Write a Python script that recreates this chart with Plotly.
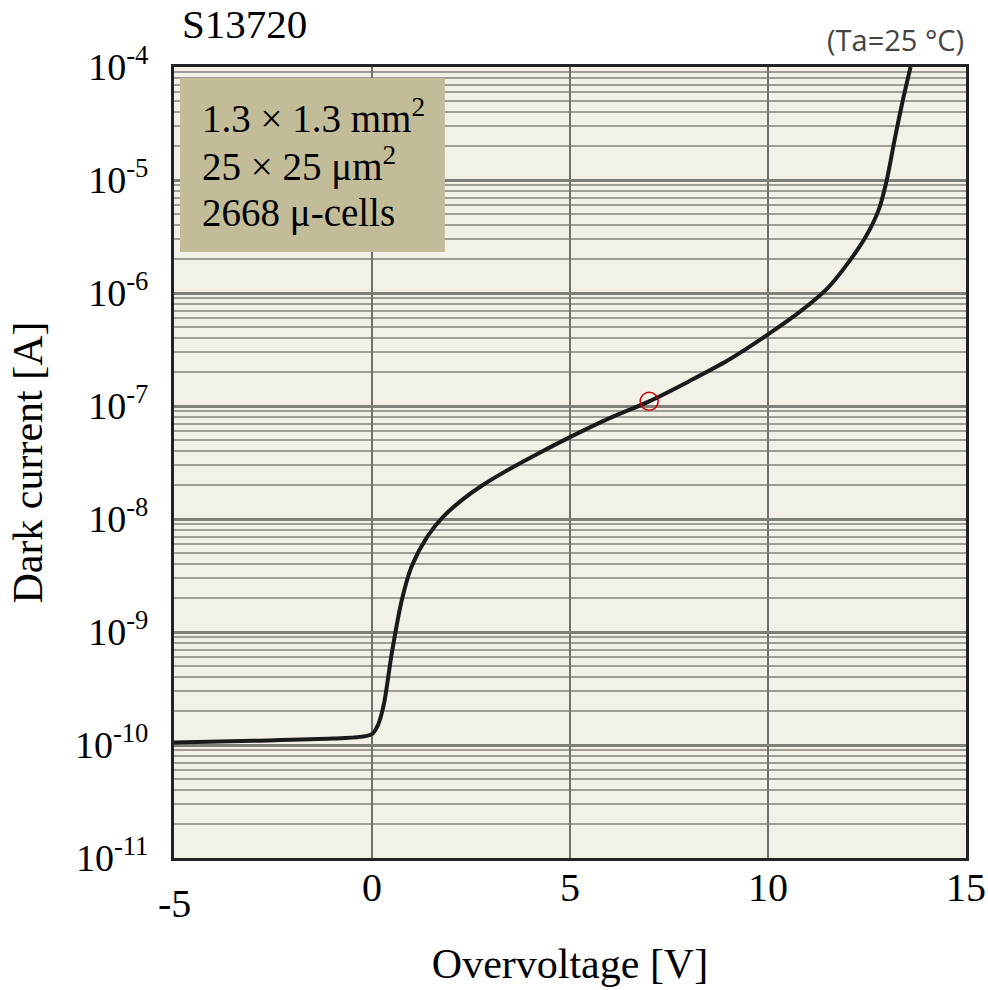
import plotly.graph_objects as go

# Data
overvoltage = [-5.0, -3.0, -1.0, -0.3, 0.0, 0.15, 0.3, 0.5, 0.75, 1.0, 1.4, 1.8, 2.3, 2.8, 3.5, 4.2, 5.0, 6.0, 7.0, 8.0, 9.0, 10.0, 10.8, 11.5, 12.0, 12.5, 12.8, 13.0, 13.2, 13.4, 13.6]
dark_current = [1.05e-10, 1.09e-10, 1.14e-10, 1.18e-10, 1.25e-10, 1.5e-10, 2.3e-10, 6.5e-10, 1.9e-9, 3.8e-9, 7.0e-9, 1.05e-8, 1.5e-8, 2.0e-8, 2.8e-8, 3.8e-8, 5.3e-8, 7.8e-8, 1.1e-7, 1.65e-7, 2.55e-7, 4.3e-7, 6.8e-7, 1.1e-6, 1.8e-6, 3.3e-6, 5.5e-6, 1.0e-5, 2.3e-5, 5.0e-5, 1.0e-4]
marker_v = [7.0]
marker_i = [1.1e-7]

x_ticks = [-5, 0, 5, 10, 15]
x_ticktext = ["", "0", "5", "10", "15"]
y_exps = [-11, -10, -9, -8, -7, -6, -5, -4]
y_ticks = [10.0 ** e for e in y_exps]
y_ticktext = [f"10<sup>{e}</sup>" for e in y_exps]
info_lines = ["1.3 × 1.3 mm<sup>2</sup>", "25 × 25 μm<sup>2</sup>", "2668 μ-cells"]

serif = "Liberation Serif, Times New Roman, serif"

fig = go.Figure()
fig.add_trace(go.Scatter(x=overvoltage, y=dark_current, mode="lines",
                         line=dict(color="#1a1a1a", width=4, shape="spline", smoothing=0.8),
                         hoverinfo="skip", showlegend=False))
fig.add_trace(go.Scatter(x=marker_v, y=marker_i, mode="markers",
                         marker=dict(size=18, color="rgba(0,0,0,0)", line=dict(color="#d00000", width=1.5)),
                         showlegend=False))

fig.update_layout(
    width=988, height=990,
    margin=dict(l=174, r=22, t=67, b=132),
    paper_bgcolor="white",
    plot_bgcolor="#F3F0E8",
    font=dict(family=serif, color="black"),
    xaxis=dict(range=[-5, 15], tickvals=x_ticks, ticktext=x_ticktext, automargin=False,
               showgrid=True, gridcolor="#6f6f6f", gridwidth=1.5,
               zeroline=False, showline=True, linecolor="#222222", linewidth=3, mirror=True,
               ticks="", tickfont=dict(family=serif, size=40), ticklabelstandoff=-8,
               title=dict(text="Overvoltage [V]", font=dict(family=serif, size=42), standoff=40)),
    yaxis=dict(type="log", range=[-11, -4], tickvals=y_ticks, ticktext=y_ticktext, automargin=False,
               showgrid=True, gridcolor="#7f7f7a", gridwidth=2.5,
               minor=dict(showgrid=True, dtick="D1", gridcolor="#9e9e97", gridwidth=1.6, ticks=""),
               zeroline=False, showline=True, linecolor="#222222", linewidth=3, mirror=True,
               ticks="", tickfont=dict(family=serif, size=38), ticklabelstandoff=15,
               title=dict(text="Dark current [A]", font=dict(family=serif, size=42), standoff=20)),
    shapes=[dict(type="rect", xref="paper", yref="paper", x0=0.0076, x1=0.342, y0=0.766, y1=0.986,
                 fillcolor="#C3BC99", line=dict(width=0), layer="above")],
)

# "-5" label sits slightly lower in the reference
fig.add_annotation(text="-5", xref="x", yref="paper", x=-5, y=0, yshift=-21,
                   xanchor="center", yanchor="top", showarrow=False,
                   font=dict(family=serif, size=40, color="black"))

fig.add_annotation(text="S13720", xref="paper", yref="paper", x=0.008, y=1.0,
                   xanchor="left", yanchor="bottom", yshift=18, showarrow=False,
                   font=dict(family=serif, size=41, color="black"))
fig.add_annotation(text="(Ta=25 °C)", xref="paper", yref="paper", x=1.0, y=1.0,
                   xanchor="right", yanchor="bottom", yshift=6, showarrow=False,
                   font=dict(family="Open Sans, DejaVu Sans, sans-serif", size=29, color="#444444"))
for i, line in enumerate(info_lines):
    fig.add_annotation(text=line, xref="paper", yref="paper", x=0.033, y=0.938 - i * 0.061,
                       xanchor="left", yanchor="middle", showarrow=False, align="left",
                       font=dict(family=serif, size=39, color="black"))

fig.write_html("out.html")
